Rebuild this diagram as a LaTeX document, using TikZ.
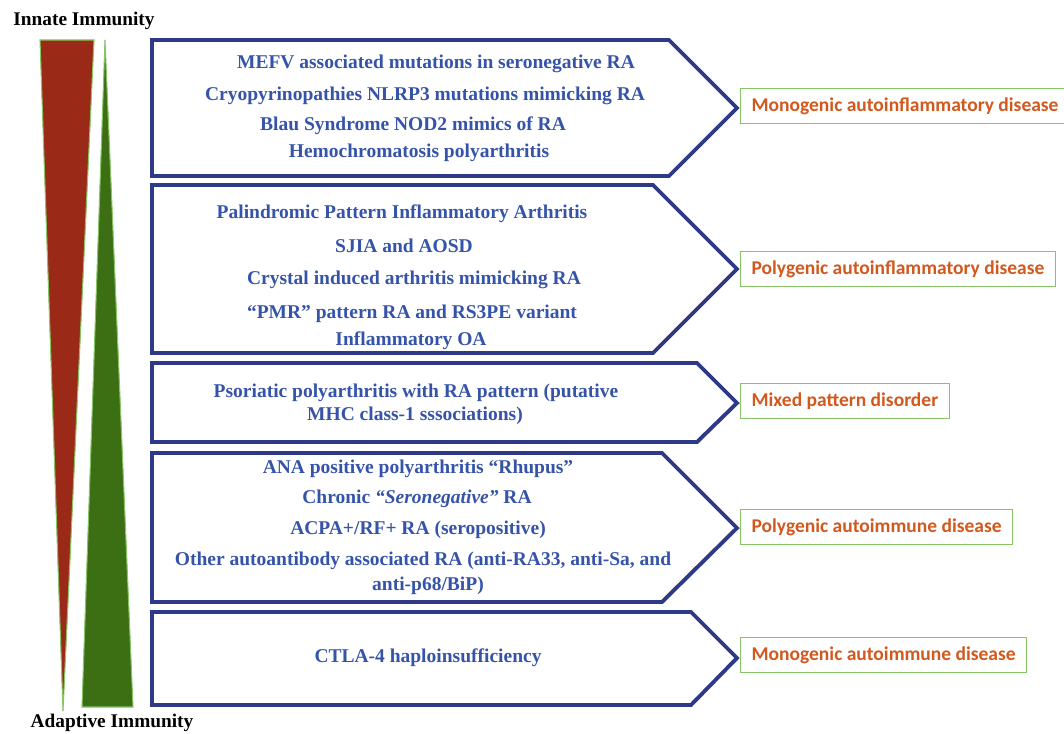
\documentclass[tikz,border=0pt]{standalone}
\usepackage{fontspec}
\setmainfont{Liberation Serif}
\newfontfamily\timesfont{Liberation Serif}
\newfontfamily\calibri{Carlito}
\usetikzlibrary{positioning}
\definecolor{navy}{HTML}{2E3A87}
\definecolor{itemblue}{HTML}{3553A8}
\definecolor{redfill}{HTML}{9A2A17}
\definecolor{greenfill}{HTML}{3C6E14}
\definecolor{lightgreen}{HTML}{86C466}
\definecolor{diseaseorange}{HTML}{D2581D}
\tikzset{
  pentagon/.style = {draw=navy, line width=2.2pt, line join=miter},
  item/.style = {text=itemblue, font=\timesfont\fontsize{11.1}{13}\selectfont\bfseries,
    inner sep=0pt, text height=7.6pt, text depth=1.6pt},
  disease/.style = {draw=lightgreen, line width=0.7pt, text=diseaseorange,
    font=\calibri\fontsize{11.1}{13}\selectfont\bfseries, anchor=west,
    minimum height=0.69cm, inner xsep=0.22cm},
  heading/.style = {font=\timesfont\fontsize{11}{13}\selectfont\bfseries}
}

\begin{document}
\begin{tikzpicture}[x=0.02cm, y=-0.02cm]
\useasboundingbox (0,0) rectangle (1064,733);
% triangles
\draw [fill=redfill, draw=lightgreen, line width=0.6pt] (40,40) -- (94,40) -- (63,711) -- cycle;
\draw [fill=greenfill, draw=lightgreen, line width=0.6pt] (105,40) -- (133,707) -- (82,707) -- cycle;
\node [heading] (innate) at (84,21) {Innate Immunity};
\node [heading] (adaptive) at (112,723) {Adaptive Immunity};

% pentagon boxes
\draw [pentagon] (152,40) -- (669,40) -- (737,108) -- (669,176) -- (152,176) -- cycle;
\draw [pentagon] (152,185) -- (653,185) -- (737,269) -- (653,353) -- (152,353) -- cycle;
\draw [pentagon] (152,363) -- (697,363) -- (737,403) -- (697,442) -- (152,442) -- cycle;
\draw [pentagon] (152,453) -- (662,453) -- (737,528) -- (662,602) -- (152,602) -- cycle;
\draw [pentagon] (152,612) -- (691,612) -- (737,658) -- (691,705) -- (152,705) -- cycle;

% box 1
\node [item] (mefv) at (436,63) {MEFV associated mutations in seronegative RA};
\node [item] (cryo) at (425,95) {Cryopyrinopathies NLRP3 mutations mimicking RA};
\node [item] (blau) at (413,125) {Blau Syndrome NOD2 mimics of RA};
\node [item] (hemo) at (419,152) {Hemochromatosis polyarthritis};
% box 2
\node [item] (palin) at (402,213) {Palindromic Pattern Inflammatory Arthritis};
\node [item] (sjia) at (404,247) {SJIA and AOSD};
\node [item] (crystal) at (414,279) {Crystal induced arthritis mimicking RA};
\node [item] (pmr) at (412,313) {“PMR” pattern RA and RS3PE variant};
\node [item] (oa) at (411,340) {Inflammatory OA};
% box 3
\node [item] (psor) at (416,392) {Psoriatic polyarthritis with RA pattern (putative};
\node [item] (mhc) at (415,415) {MHC class-1 sssociations)};
% box 4
\node [item] (ana) at (418,468) {ANA positive polyarthritis “Rhupus”};
\node [item] (chronic) at (417,498) {Chronic \textit{“Seronegative”} RA};
\node [item] (acpa) at (418,529) {ACPA+/RF+ RA (seropositive)};
\node [item] (other) at (423,560) {Other autoantibody associated RA (anti-RA33, anti-Sa, and};
\node [item] (p68) at (428,585) {anti-p68/BiP)};
% box 5
\node [item] (ctla) at (428,657) {CTLA-4 haploinsufficiency};

% disease labels
\node [disease] (monoinfl) at (740,106) {Monogenic autoinflammatory disease};
\node [disease] (polyinfl) at (740,269) {Polygenic autoinflammatory disease};
\node [disease] (mixed) at (740,401) {Mixed pattern disorder};
\node [disease] (polyimm) at (740,527) {Polygenic autoimmune disease};
\node [disease] (monoimm) at (740,655) {Monogenic autoimmune disease};
\end{tikzpicture}
\end{document}
